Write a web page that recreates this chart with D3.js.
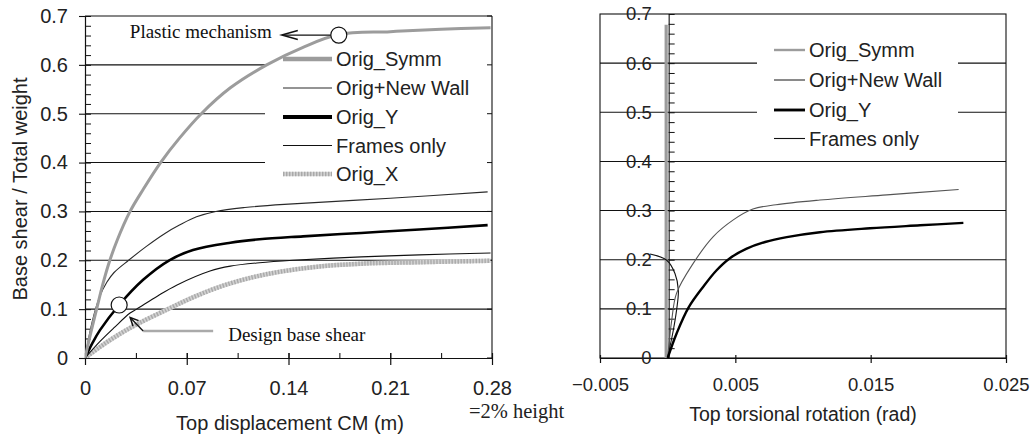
<!DOCTYPE html>
<html>
<head>
<meta charset="utf-8">
<script src="https://cdn.jsdelivr.net/npm/d3@7"></script>
<style>
  html, body { margin: 0; padding: 0; background: #fff; }
  svg { display: block; }
</style>
</head>
<body>
<svg id="chart" width="1034" height="437"></svg>
<script>
// ---- data ---------------------------------------------------------------
const seriesNames = ["Orig_Symm", "Orig+New Wall", "Orig_Y", "Frames only", "Orig_X"];

const shearTicks = [0, 0.1, 0.2, 0.3, 0.4, 0.5, 0.6, 0.7];
const dispTicks = [0, 0.07, 0.14, 0.21, 0.28];
const rotTicks = [-0.005, 0.005, 0.015, 0.025];

// pushover curves: [top displacement CM (m), base shear / total weight]
const dispOrigSymm = [[0, 0], [0.004, 0.052], [0.008, 0.1], [0.012, 0.148], [0.016, 0.19], [0.022, 0.24],
  [0.031, 0.3], [0.04, 0.345], [0.052, 0.4], [0.065, 0.45], [0.08, 0.5], [0.1, 0.553], [0.125, 0.6],
  [0.15, 0.636], [0.1746, 0.662], [0.21, 0.668], [0.245, 0.673], [0.279, 0.676]];
const dispNewWall = [[0, 0], [0.005, 0.075], [0.01, 0.125], [0.015, 0.155], [0.02, 0.175], [0.03, 0.2],
  [0.042, 0.228], [0.055, 0.255], [0.065, 0.272], [0.0767, 0.289], [0.09, 0.3], [0.11, 0.308],
  [0.14, 0.315], [0.21, 0.327], [0.277, 0.34]];
const dispOrigY = [[0, 0], [0.005, 0.03], [0.0103, 0.057], [0.0235, 0.1085], [0.04, 0.16], [0.058, 0.2],
  [0.0743, 0.221], [0.1, 0.236], [0.12, 0.243], [0.15, 0.249], [0.19, 0.256], [0.23, 0.263], [0.277, 0.272]];
const dispFrames = [[0, 0], [0.01, 0.033], [0.02, 0.062], [0.031, 0.092], [0.0355, 0.1], [0.05, 0.127],
  [0.063, 0.149], [0.086, 0.178], [0.1, 0.188], [0.12, 0.195], [0.143, 0.2], [0.19, 0.207], [0.23, 0.211], [0.279, 0.215]];
const dispOrigX = [[0, 0], [0.01, 0.022], [0.02, 0.042], [0.035, 0.068], [0.057, 0.1], [0.075, 0.125],
  [0.095, 0.148], [0.115, 0.165], [0.135, 0.177], [0.16, 0.187], [0.19, 0.193], [0.23, 0.196], [0.279, 0.199]];

// torsional response: [top torsional rotation (rad), base shear / total weight]
const rotOrigSymm = [[0, 0], [0, 0.2], [0, 0.4], [0, 0.6], [0, 0.678]];
const rotNewWall = [[0, 0], [0.0003, 0.077], [0.00066, 0.132], [0.0019, 0.193], [0.00337, 0.247],
  [0.00485, 0.281], [0.0063, 0.303], [0.008, 0.312], [0.01125, 0.3215], [0.0162, 0.332], [0.0215, 0.343]];
const rotOrigY = [[0, 0], [0.00066, 0.05], [0.00155, 0.103], [0.00263, 0.145], [0.0036, 0.178],
  [0.0046, 0.203], [0.0058, 0.222], [0.0072, 0.236], [0.0088, 0.246], [0.01125, 0.256], [0.01495, 0.264],
  [0.01865, 0.27], [0.02185, 0.275]];
const rotFrames = [[0, 0], [0.00017, 0.023], [0.00042, 0.057], [0.00066, 0.098], [0.00079, 0.138],
  [0.00054, 0.172], [-0.00007, 0.199], [-0.0013, 0.2116]];

// marked points
const plasticPoint = [0.1746, 0.662];
const designPoint = [0.0235, 0.1085];

// ---- setup --------------------------------------------------------------
const SANS = "'Liberation Sans', Arial, Helvetica, sans-serif";
const SERIF = "'Liberation Serif', 'Times New Roman', serif";
const svg = d3.select("#chart");

const xL = d3.scaleLinear().domain([0, 0.28]).range([85, 492]);
const yL = d3.scaleLinear().domain([0, 0.7]).range([358, 16]);
const xR = d3.scaleLinear().domain([-0.005, 0.025]).range([600, 1006]);
const yR = d3.scaleLinear().domain([0, 0.7]).range([358, 14]);

const smooth = d3.curveCatmullRom.alpha(0.5);

const styles = {
  "Orig_Symm": { stroke: "#9c9c9c", width: 3 },
  "Orig+New Wall": { stroke: "#2a2a2a", width: 1.1 },
  "Orig_Y": { stroke: "#000", width: 2.6 },
  "Frames only": { stroke: "#111", width: 1.1 },
  "Orig_X": { stroke: "#d2d2d2", width: 4.5, dash: "#a9a9a9" }
};

function drawCurve(g, data, x, y, name, curve, styleOverride) {
  const st = Object.assign({}, styles[name], styleOverride || {});
  const line = d3.line().x(d => x(d[0])).y(d => y(d[1])).curve(curve);
  g.append("path").datum(data).attr("d", line)
    .attr("fill", "none").attr("stroke", st.stroke).attr("stroke-width", st.width)
    .attr("stroke-linejoin", "round");
  if (st.dash) {
    g.append("path").datum(data).attr("d", line)
      .attr("fill", "none").attr("stroke", st.dash).attr("stroke-width", st.width)
      .attr("stroke-dasharray", "1.4,1.6");
  }
}

function legendSwatch(g, x1, x2, yy, name, widthScale) {
  const st = styles[name];
  g.append("line").attr("x1", x1).attr("x2", x2).attr("y1", yy).attr("y2", yy)
    .attr("stroke", st.stroke).attr("stroke-width", st.width * widthScale);
  if (st.dash) {
    g.append("line").attr("x1", x1).attr("x2", x2).attr("y1", yy).attr("y2", yy)
      .attr("stroke", st.dash).attr("stroke-width", st.width * widthScale)
      .attr("stroke-dasharray", "1.4,1.6");
  }
}

// ---- left panel: pushover curves ----------------------------------------
const gL = svg.append("g");
const x0L = xL.range()[0], x1L = xL.range()[1];
const legendLeftEdge = 265;

// horizontal gridlines (upper ones stop at the legend)
gL.selectAll("line.grid").data(shearTicks.filter(t => t > 0 && t < 0.7)).join("line")
  .attr("x1", x0L).attr("x2", d => d >= 0.35 ? legendLeftEdge : x1L)
  .attr("y1", d => yL(d)).attr("y2", d => yL(d))
  .attr("stroke", "#111").attr("stroke-width", 1.1);

// plot frame
gL.append("line").attr("x1", x0L).attr("x2", x1L).attr("y1", yL(0.7)).attr("y2", yL(0.7)).attr("stroke", "#111").attr("stroke-width", 1.1);
gL.append("line").attr("x1", x1L).attr("x2", x1L).attr("y1", yL(0.7)).attr("y2", yL(0)).attr("stroke", "#111").attr("stroke-width", 1.1);
// right-side tick marks
gL.selectAll("line.rtick").data(shearTicks).join("line")
  .attr("x1", x1L - 5).attr("x2", x1L).attr("y1", d => yL(d)).attr("y2", d => yL(d))
  .attr("stroke", "#111");

// bottom axis
const minorDisp = d3.range(0, 0.2801, 0.035);
gL.append("g").attr("transform", `translate(0,${yL(0)})`)
  .call(d3.axisBottom(xL).tickValues(minorDisp).tickSize(-5).tickFormat("").tickSizeOuter(0))
  .call(g => g.select(".domain").attr("stroke", "#111").attr("stroke-width", 1.2));
const axBL = gL.append("g").attr("transform", `translate(0,${yL(0)})`)
  .call(d3.axisBottom(xL).tickValues(dispTicks).tickSize(7).tickSizeOuter(0).tickFormat(d => d === 0 ? "0" : d3.format(".2f")(d)));
axBL.select(".domain").remove();
axBL.selectAll(".tick line").attr("y1", -5).attr("stroke", "#111").attr("stroke-width", 1.2);
axBL.selectAll(".tick text").attr("y", 23).attr("font-size", 20).attr("font-family", SANS).attr("fill", "#222");

// left axis
const minorShear = d3.range(0, 0.7001, 0.02);
gL.append("g").attr("transform", `translate(${x0L},0)`)
  .call(d3.axisLeft(yL).tickValues(minorShear).tickSize(-6).tickFormat("").tickSizeOuter(0))
  .call(g => g.select(".domain").attr("stroke", "#111").attr("stroke-width", 1.2))
  .call(g => g.selectAll(".tick line").attr("stroke", "#111"));
const axLL = gL.append("g").attr("transform", `translate(${x0L},0)`)
  .call(d3.axisLeft(yL).tickValues(shearTicks).tickSize(6).tickSizeOuter(0).tickFormat(d => d === 0 ? "0" : d3.format(".1f")(d)));
axLL.select(".domain").remove();
axLL.selectAll(".tick line").attr("stroke", "#111").attr("stroke-width", 1.1);
axLL.selectAll(".tick text").attr("x", -17).attr("font-size", 20).attr("font-family", SANS).attr("fill", "#222");

// curves
svg.append("clipPath").attr("id", "clipL").append("rect")
  .attr("x", x0L).attr("y", yL(0.7)).attr("width", x1L - x0L).attr("height", yL(0) - yL(0.7));
const curvesL = gL.append("g").attr("clip-path", "url(#clipL)");
drawCurve(curvesL, dispOrigX, xL, yL, "Orig_X", smooth);
drawCurve(curvesL, dispFrames, xL, yL, "Frames only", smooth);
drawCurve(curvesL, dispOrigY, xL, yL, "Orig_Y", smooth);
drawCurve(curvesL, dispNewWall, xL, yL, "Orig+New Wall", smooth);
drawCurve(curvesL, dispOrigSymm, xL, yL, "Orig_Symm", smooth);

// legend
const legL = gL.append("g");
const legRowsL = [59, 88, 117, 145.5, 174];
seriesNames.forEach((name, i) => {
  const wScale = (name === "Orig_Symm" || name === "Orig_Y") ? 1.5 : 1;
  legendSwatch(legL, 283, 332, legRowsL[i], name, wScale);
  legL.append("text").attr("x", 336).attr("y", legRowsL[i]).attr("dy", "0.36em")
    .attr("font-size", 20).attr("font-family", SANS).attr("fill", "#222").text(name);
});

// annotation: plastic mechanism
const pmx = xL(plasticPoint[0]), pmy = yL(plasticPoint[1]) + 0.5;
gL.append("line").attr("x1", pmx - 8).attr("x2", pmx - 56).attr("y1", pmy).attr("y2", pmy)
  .attr("stroke", "#111").attr("stroke-width", 1.2);
gL.append("path").attr("d", `M${pmx - 41},${pmy - 4.5} L${pmx - 57},${pmy} L${pmx - 41},${pmy + 4.5}`)
  .attr("fill", "none").attr("stroke", "#111").attr("stroke-width", 1.5);
gL.append("circle").attr("cx", pmx).attr("cy", pmy).attr("r", 8)
  .attr("fill", "#fff").attr("stroke", "#111").attr("stroke-width", 1.2);
gL.append("text").attr("x", pmx - 67).attr("y", pmy - 3).attr("dy", "0.32em").attr("text-anchor", "end")
  .attr("font-size", 19).attr("font-family", SERIF).attr("fill", "#111").text("Plastic mechanism");

// annotation: design base shear
const dbx = xL(designPoint[0]), dby = yL(designPoint[1]);
const ax0 = dbx + 24, ay0 = dby + 26, tipx = dbx + 11, tipy = dby + 12.5;
gL.append("line").attr("x1", ax0).attr("x2", ax0 + 70).attr("y1", ay0).attr("y2", ay0)
  .attr("stroke", "#aaa").attr("stroke-width", 2.5);
gL.append("line").attr("x1", ax0).attr("y1", ay0).attr("x2", tipx).attr("y2", tipy)
  .attr("stroke", "#111").attr("stroke-width", 1.3);
{
  const ang = Math.atan2(ay0 - tipy, ax0 - tipx), L = 9, spread = 0.45;
  gL.append("path")
    .attr("d", `M${tipx + L * Math.cos(ang - spread)},${tipy + L * Math.sin(ang - spread)} L${tipx},${tipy} L${tipx + L * Math.cos(ang + spread)},${tipy + L * Math.sin(ang + spread)}`)
    .attr("fill", "none").attr("stroke", "#111").attr("stroke-width", 1.5);
}
gL.append("circle").attr("cx", dbx).attr("cy", dby).attr("r", 8)
  .attr("fill", "#fff").attr("stroke", "#111").attr("stroke-width", 1.2);
gL.append("text").attr("x", ax0 + 85).attr("y", ay0 + 4).attr("dy", "0.32em")
  .attr("font-size", 19).attr("font-family", SERIF).attr("fill", "#111").text("Design base shear");

// axis titles
gL.append("text").attr("transform", `translate(20,${(yL(0) + yL(0.7)) / 2 + 2}) rotate(-90)`)
  .attr("text-anchor", "middle").attr("dy", "0.35em")
  .attr("font-size", 20).attr("font-family", SANS).attr("fill", "#222").text("Base shear / Total weight");
gL.append("text").attr("x", 290).attr("y", 423).attr("dy", "0.35em").attr("text-anchor", "middle")
  .attr("font-size", 20).attr("font-family", SANS).attr("fill", "#222").text("Top displacement CM (m)");
gL.append("text").attr("x", 469).attr("y", 411).attr("dy", "0.32em")
  .attr("font-size", 20.5).attr("font-family", SERIF).attr("fill", "#222").text("=2% height");

// ---- right panel: torsional rotation -----------------------------------
const gR = svg.append("g");
const x0R = xR.range()[0], x1R = xR.range()[1];
const gapR = [757, 958];

// gridlines (0.5 and 0.6 are broken by the legend)
shearTicks.filter(t => t > 0 && t < 0.7).forEach(t => {
  const segs = (t >= 0.45) ? [[x0R, gapR[0]], [gapR[1], x1R]] : [[x0R, x1R]];
  segs.forEach(s => gR.append("line").attr("x1", s[0]).attr("x2", s[1])
    .attr("y1", yR(t)).attr("y2", yR(t)).attr("stroke", "#111").attr("stroke-width", 1.1));
});

// frame
gR.append("rect").attr("x", x0R).attr("y", yR(0.7)).attr("width", x1R - x0R).attr("height", yR(0) - yR(0.7))
  .attr("fill", "none").attr("stroke", "#111").attr("stroke-width", 1.1);

// bottom axis
const axBR = gR.append("g").attr("transform", `translate(0,${yR(0)})`)
  .call(d3.axisBottom(xR).tickValues(rotTicks).tickSize(5).tickSizeOuter(0).tickFormat(d3.format(".3f")));
axBR.select(".domain").attr("stroke", "#111").attr("stroke-width", 1.2);
axBR.selectAll(".tick line").attr("y1", -3).attr("stroke", "#111").attr("stroke-width", 1.2);
axBR.selectAll(".tick text").attr("y", 20).attr("font-size", 18.5).attr("font-family", SANS).attr("fill", "#222");

// vertical axis at zero rotation
const axVR = gR.append("g").attr("transform", `translate(${xR(0) + 1},0)`)
  .call(d3.axisLeft(yR).tickValues(d3.range(0, 0.7001, 0.02)).tickSize(-6).tickFormat("").tickSizeOuter(0));
axVR.select(".domain").attr("stroke", "#111").attr("stroke-width", 1.1);
axVR.selectAll(".tick line").attr("stroke", "#111");
const axLabR = gR.append("g").attr("transform", `translate(${xR(0) + 1},0)`)
  .call(d3.axisLeft(yR).tickValues(shearTicks).tickSize(0).tickSizeOuter(0).tickFormat(d => d === 0 ? "0" : d3.format(".1f")(d)));
axLabR.select(".domain").remove();
axLabR.selectAll(".tick text").attr("x", -17).attr("font-size", 18.5).attr("font-family", SANS).attr("fill", "#222");

// curves
svg.append("clipPath").attr("id", "clipR").append("rect")
  .attr("x", x0R).attr("y", yR(0.7)).attr("width", x1R - x0R).attr("height", yR(0) - yR(0.7));
const curvesR = gR.append("g").attr("clip-path", "url(#clipR)");
drawCurve(curvesR, rotOrigSymm, d => xR(d) - 1.5, yR, "Orig_Symm", d3.curveLinear, { width: 3.2 });
drawCurve(curvesR, rotFrames, xR, yR, "Frames only", smooth);
drawCurve(curvesR, rotNewWall, xR, yR, "Orig+New Wall", smooth, { stroke: "#555" });
drawCurve(curvesR, rotOrigY, xR, yR, "Orig_Y", smooth, { width: 2.4 });

// legend
const legR = gR.append("g");
const legRowsR = [50, 80, 110, 138.5];
seriesNames.slice(0, 4).forEach((name, i) => {
  const wScale = name === "Orig_Symm" ? 0.8 : (name === "Orig_Y" ? 1.1 : 1);
  legendSwatch(legR, 774, 805, legRowsR[i], name, wScale);
  legR.append("text").attr("x", 809).attr("y", legRowsR[i]).attr("dy", "0.36em")
    .attr("font-size", 20).attr("font-family", SANS).attr("fill", "#222").text(name);
});

// axis title
gR.append("text").attr("x", 803).attr("y", 414).attr("dy", "0.35em").attr("text-anchor", "middle")
  .attr("font-size", 19.5).attr("font-family", SANS).attr("fill", "#222").text("Top torsional rotation (rad)");
</script>
</body>
</html>
